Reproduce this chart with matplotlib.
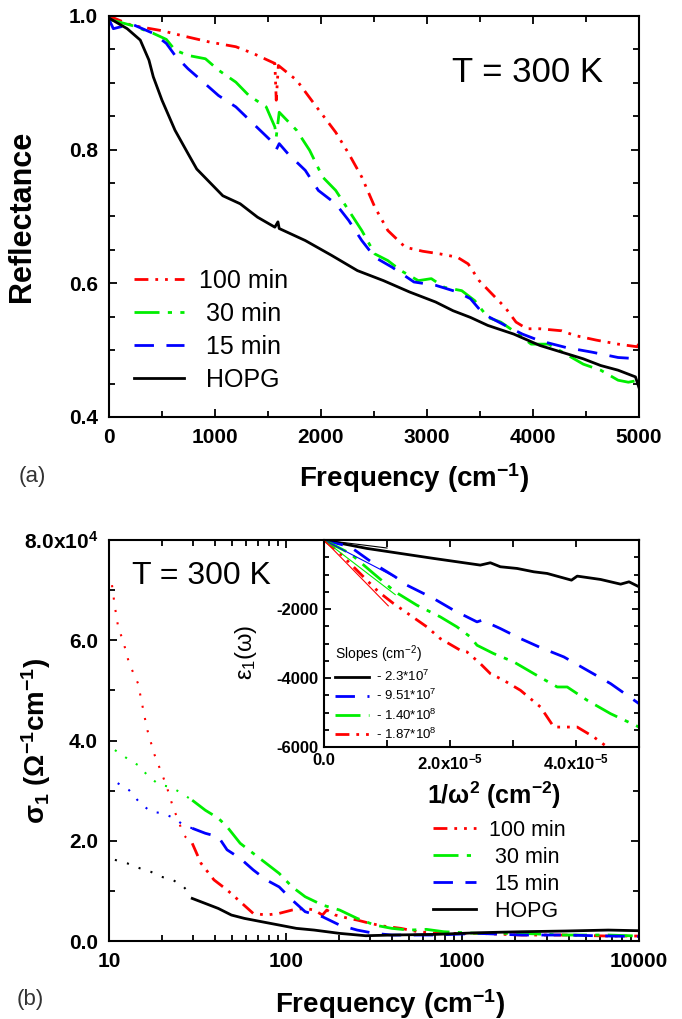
import numpy as np
import matplotlib.pyplot as plt
from matplotlib.ticker import MultipleLocator, FixedLocator, FixedFormatter, LogLocator, NullFormatter

plt.rcParams['font.family'] = ['Liberation Sans', 'DejaVu Sans']
plt.rcParams['mathtext.default'] = 'regular'

# ---- (a) reflectance, 0-5000 cm-1
f_100 = [0, 213, 500, 705, 950, 1197, 1360, 1565, 1578, 1598, 1770, 1934, 2139, 2262, 2385, 2508,
         2631, 2795, 2959, 3123, 3287, 3389, 3492, 3614, 3737, 3840, 3942, 4065, 4270, 4393, 4598,
         4803, 4987, 5000]
R_100 = [1.0, 0.986, 0.978, 0.970, 0.961, 0.954, 0.944, 0.929, 0.874, 0.926, 0.904, 0.869, 0.826,
         0.794, 0.759, 0.714, 0.679, 0.654, 0.648, 0.644, 0.639, 0.629, 0.604, 0.584, 0.564, 0.542,
         0.532, 0.532, 0.529, 0.522, 0.515, 0.509, 0.505, 0.512]

f_30 = [0, 213, 418, 541, 623, 746, 910, 1033, 1197, 1320, 1483, 1565, 1578, 1606, 1770, 1893, 2016,
        2139, 2262, 2385, 2508, 2631, 2754, 2918, 3041, 3164, 3328, 3451, 3574, 3696, 3860, 3983,
        4147, 4311, 4475, 4639, 4803, 4900, 5000]
R_30 = [0.995, 0.986, 0.974, 0.965, 0.949, 0.941, 0.936, 0.919, 0.901, 0.881, 0.864, 0.834, 0.819,
        0.856, 0.829, 0.799, 0.759, 0.739, 0.709, 0.679, 0.644, 0.634, 0.619, 0.604, 0.607, 0.594,
        0.589, 0.574, 0.549, 0.542, 0.524, 0.509, 0.509, 0.494, 0.479, 0.470, 0.455, 0.452, 0.455]

f_15 = [0, 41, 213, 418, 541, 623, 746, 869, 1033, 1197, 1360, 1524, 1578, 1606, 1688, 1852, 1975,
        2139, 2262, 2385, 2508, 2672, 2877, 3082, 3287, 3410, 3533, 3737, 3901, 4065, 4311, 4557,
        4803, 5000]
R_15 = [0.995, 0.981, 0.988, 0.974, 0.959, 0.941, 0.921, 0.904, 0.881, 0.864, 0.839, 0.814, 0.800,
        0.809, 0.794, 0.769, 0.739, 0.719, 0.694, 0.664, 0.639, 0.624, 0.602, 0.597, 0.587, 0.577,
        0.554, 0.537, 0.524, 0.514, 0.504, 0.497, 0.489, 0.487]

f_hopg = [0, 172, 295, 377, 418, 500, 623, 746, 828, 951, 1074, 1238, 1401, 1565, 1594, 1606, 1852,
          2098, 2344, 2590, 2836, 3082, 3246, 3410, 3574, 3819, 4065, 4270, 4475, 4639, 4803, 4967,
          5000]
R_hopg = [0.997, 0.981, 0.964, 0.934, 0.909, 0.874, 0.829, 0.794, 0.771, 0.751, 0.731, 0.719, 0.699,
          0.684, 0.692, 0.682, 0.664, 0.642, 0.619, 0.604, 0.587, 0.572, 0.559, 0.549, 0.537, 0.524,
          0.507, 0.497, 0.487, 0.477, 0.470, 0.460, 0.444]

# ---- (b) conductivity, extrapolated (dotted) and measured parts
fe_100 = [10.4, 10.8, 11.3, 12.0, 13.0, 14.6, 16.4, 18.0, 19.9, 21.1, 23.0, 25.0, 26.5, 29.6]
se_100 = [71000, 66700, 62400, 60000, 55400, 51400, 42400, 37400, 33400, 31100, 26800, 23500, 21100, 19500]
fe_30 = [10.8, 12.7, 14.6, 16.8, 19.4, 22.3, 25.7, 29.6]
se_30 = [38100, 36400, 35100, 32800, 31100, 30800, 29500, 28100]
fe_15 = [11.2, 13.0, 15.0, 17.3, 20.2, 23.4, 26.5, 29.6]
se_15 = [31500, 30100, 27500, 25800, 25500, 24500, 23100, 22500]
fe_hopg = [10.8, 12.7, 15.0, 17.3, 19.9, 23.0, 26.5, 29.6]
se_hopg = [16200, 15500, 14500, 13800, 12800, 12200, 10800, 8840]

fm_100 = [29.6, 33.2, 39.3, 46.6, 55.3, 65.5, 77.6, 91.9, 108.9, 129, 144.7, 161.6, 171, 191, 227,
          254, 301, 357, 449, 562, 705, 1236, 2168, 3800, 6700, 10000]
sm_100 = [19500, 15500, 12200, 10200, 7850, 5520, 5190, 5520, 6190, 6520, 6190, 5190, 6190, 5190,
          4520, 4190, 3520, 2990, 2530, 1860, 1530, 1530, 1200, 1200, 1000, 1000]
fm_30 = [29.6, 35.1, 41.6, 46.6, 55.3, 65.5, 77.6, 91.9, 108.9, 129, 161.6, 202, 254, 319, 399, 500,
         627, 786, 1236, 2168, 3800, 6700, 10000]
sm_30 = [28100, 26100, 24500, 22800, 19500, 17500, 15500, 13500, 10800, 8840, 7180, 6190, 4520, 3190,
         2530, 2190, 2330, 1860, 1530, 1530, 1200, 1200, 1000]
fm_15 = [29.6, 35.1, 41.6, 46.6, 55.3, 65.5, 77.6, 91.9, 108.9, 129, 161.6, 202, 254, 319, 399, 705,
         1236, 2168, 3800, 6700, 10000]
sm_15 = [22500, 21500, 20800, 18200, 16500, 14200, 12200, 10800, 8180, 5850, 4850, 3190, 2190, 1530,
         1200, 1200, 1530, 1200, 1200, 1000, 900]
fm_hopg = [29.6, 35.1, 41.6, 49.3, 58.4, 73.0, 91.9, 115, 145, 202, 284, 399, 705, 1236, 2168, 3800,
           6700, 10000]
sm_hopg = [8500, 7500, 6500, 5190, 4520, 3860, 3190, 2530, 2190, 1530, 1060, 1200, 1330, 1660, 1860,
           2000, 2190, 2060]

# ---- inset: eps1 vs 1/w^2
x_hopg = [0, 6.79e-6, 1.209e-5, 1.739e-5, 2.110e-5, 2.481e-5, 2.640e-5, 2.799e-5, 3.065e-5, 3.330e-5,
          3.542e-5, 3.928e-5, 4.019e-5, 4.390e-5, 4.708e-5, 4.841e-5, 5.0e-5]
e_hopg = [0, -242, -387, -532, -629, -726, -658, -774, -823, -920, -968, -1162, -1045, -1142, -1278,
          -1210, -1355]
x_15 = [0, 4.14e-6, 7.85e-6, 1.129e-5, 1.315e-5, 1.739e-5, 2.057e-5, 2.428e-5, 2.508e-5, 2.799e-5,
        3.118e-5, 3.436e-5, 3.807e-5, 4.178e-5, 4.549e-5, 5.0e-5]
e_15 = [0, -194, -678, -1065, -1307, -1694, -2033, -2372, -2323, -2565, -2856, -3117, -3388, -3775,
        -4162, -4743]
x_30 = [0, 4.14e-6, 7.85e-6, 1.129e-5, 1.474e-5, 1.845e-5, 2.110e-5, 2.322e-5, 2.428e-5, 2.693e-5,
        3.012e-5, 3.330e-5, 3.701e-5, 3.860e-5, 4.178e-5, 4.549e-5, 5.0e-5]
e_30 = [0, -387, -968, -1500, -1888, -2226, -2517, -2807, -3049, -3291, -3533, -3872, -4259, -4259,
        -4646, -5034, -5421]
x_100 = [0, 2.545e-6, 5.196e-6, 7.317e-6, 8.643e-6, 1.103e-5, 1.368e-5, 1.633e-5, 1.845e-5, 2.163e-5,
         2.269e-5, 2.481e-5, 2.640e-5, 2.852e-5, 3.118e-5, 3.436e-5, 3.648e-5, 3.807e-5, 4.019e-5,
         4.284e-5, 4.496e-5, 4.6e-5]
e_100 = [0, -387, -871, -1258, -1500, -1839, -2178, -2517, -2856, -3194, -3243, -3582, -3872, -4066,
         -4356, -4840, -5421, -5421, -5421, -5711, -6001, -6200]

slopes = [-2.3e7, -9.51e7, -1.40e8, -1.87e8]
slope_labels = ['- 2.3*10$^7$', '- 9.51*10$^7$', '- 1.40*10$^8$', '- 1.87*10$^8$']
fit_end = [1.0e-5, 1.13e-5, 1.13e-5, 1.02e-5]

labels = ['100 min', ' 30 min', ' 15 min', ' HOPG']
colors = ['#ff0000', '#00ee00', '#0000ff', 'black']
styles = [(0, (5, 2.5, 1, 2.5, 1, 2.5)), (0, (9, 3, 1.5, 3)), (0, (7, 4.5)), '-']

s1_ticks = [0, 2e4, 4e4, 6e4, 8e4]
s1_ticklabels = ['0.0', '2.0', '4.0', '6.0', '8.0x10$^4$']
in_xticks = [0, 1e-5, 2e-5, 3e-5, 4e-5, 5e-5]
in_xticklabels = ['0.0', '', '2.0x10$^{-5}$', '', '4.0x10$^{-5}$', '']
in_yticks = [0, -2000, -4000, -6000]
in_yticklabels = ['', '-2000', '-4000', '-6000']


def style_axes(ax, size):
    for sp in ax.spines.values():
        sp.set_linewidth(1.5)
    ax.tick_params(which='both', direction='in', top=True, right=True, width=1.3)
    ax.tick_params(which='major', length=6, labelsize=size, pad=8)
    ax.tick_params(which='minor', length=4.5)
    for t in ax.get_xticklabels() + ax.get_yticklabels():
        t.set_fontweight('bold')


fig = plt.figure(figsize=(6.82, 10.19), dpi=100)

# ---------------- panel (a)
ax1 = fig.add_axes([0.1598, 0.5908, 0.7771, 0.3935])
for f, r, c, ls, lab in zip([f_100, f_30, f_15, f_hopg], [R_100, R_30, R_15, R_hopg],
                            colors, styles, labels):
    ax1.plot(f, r, color=c, ls=ls, lw=2, label=lab)
ax1.set_xlim(0, 5000)
ax1.set_ylim(0.4, 1.0)
ax1.xaxis.set_major_locator(MultipleLocator(1000))
ax1.xaxis.set_minor_locator(MultipleLocator(500))
ax1.yaxis.set_major_locator(MultipleLocator(0.2))
ax1.yaxis.set_minor_locator(MultipleLocator(0.05))
ax1.yaxis.set_major_formatter(plt.FormatStrFormatter('%.1f'))
style_axes(ax1, 15)
ax1.set_ylabel('Reflectance', fontsize=22, fontweight='bold')
ax1.yaxis.set_label_coords(-0.136, 0.5)
ax1.set_xlabel('Frequency (cm$^{-1}$)', fontsize=20, fontweight='bold')
ax1.xaxis.set_label_coords(0.575, -0.11)
ax1.text(0.789, 0.86, 'T = 300 K', transform=ax1.transAxes, fontsize=25, ha='center', va='center')
ax1.legend(loc='upper left', bbox_to_anchor=(0.047, 0.37), frameon=False, fontsize=18,
           handlelength=2.0, handletextpad=0.6, labelspacing=0.36, borderpad=0, borderaxespad=0)
fig.text(0.047, 0.532, '(a)', fontsize=16, color='#333333', ha='center', va='center')

# ---------------- panel (b)
ax2 = fig.add_axes([0.1598, 0.0765, 0.7771, 0.3935])
for fe, se, fm, sm, c, ls, lab in zip([fe_100, fe_30, fe_15, fe_hopg], [se_100, se_30, se_15, se_hopg],
                                      [fm_100, fm_30, fm_15, fm_hopg], [sm_100, sm_30, sm_15, sm_hopg],
                                      colors, styles, labels):
    ax2.plot(fe, se, color=c, ls=(0, (1, 5)), lw=1.5)
    ax2.plot(fm, sm, color=c, ls=ls, lw=2, label=lab)
ax2.set_xscale('log')
ax2.set_xlim(10, 10000)
ax2.set_ylim(0, 8e4)
ax2.xaxis.set_major_locator(LogLocator(base=10))
ax2.xaxis.set_minor_locator(LogLocator(base=10, subs=np.arange(2, 10)))
ax2.xaxis.set_minor_formatter(NullFormatter())
ax2.xaxis.set_major_formatter(plt.FuncFormatter(lambda v, p: '%d' % v))
ax2.yaxis.set_major_locator(FixedLocator(s1_ticks))
ax2.yaxis.set_major_formatter(FixedFormatter(s1_ticklabels))
ax2.yaxis.set_minor_locator(MultipleLocator(1e4))
style_axes(ax2, 15)
ax2.set_ylabel('σ$_1$ (Ω$^{-1}$cm$^{-1}$)', fontsize=20, fontweight='bold')
ax2.yaxis.set_label_coords(-0.106, 0.5)
ax2.set_xlabel('Frequency (cm$^{-1}$)', fontsize=20, fontweight='bold')
ax2.xaxis.set_label_coords(0.53, -0.115)
ax2.text(0.174, 0.91, 'T = 300 K', transform=ax2.transAxes, fontsize=23, ha='center', va='center')
ax2.legend(loc='upper left', bbox_to_anchor=(0.611, 0.303), frameon=False, fontsize=15.5,
           handlelength=2.0, handletextpad=0.6, labelspacing=0.28, borderpad=0, borderaxespad=0)
fig.text(0.044, 0.019, '(b)', fontsize=16, color='#333333', ha='center', va='center')

# ---------------- inset
ax3 = fig.add_axes([0.4751, 0.2669, 0.4619, 0.2031])
handles = []
for x, e, c, ls in zip([x_hopg, x_15, x_30, x_100], [e_hopg, e_15, e_30, e_100],
                       colors[::-1], styles[::-1]):
    h, = ax3.plot(x, e, color=c, ls=ls, lw=2)
    handles.append(h)
for k, (sl, xe) in enumerate(zip(slopes, fit_end)):
    xx = np.array([0, xe])
    ax3.plot(xx, sl * xx, color=colors[::-1][k], lw=0.8)
ax3.set_xlim(0, 5e-5)
ax3.set_ylim(-6000, 0)
ax3.xaxis.set_major_locator(FixedLocator(in_xticks))
ax3.xaxis.set_major_formatter(FixedFormatter(in_xticklabels))
ax3.yaxis.set_major_locator(FixedLocator(in_yticks))
ax3.yaxis.set_major_formatter(FixedFormatter(in_yticklabels))
ax3.yaxis.set_minor_locator(MultipleLocator(500))
style_axes(ax3, 12)
ax3.tick_params(which='major', pad=4, length=5)
ax3.tick_params(which='minor', length=3.5)
ax3.set_ylabel('ε$_1$(ω)', fontsize=17)
ax3.yaxis.set_label_coords(-0.206, 0.46)
ax3.set_xlabel('1/ω$^2$ (cm$^{-2}$)', fontsize=18, fontweight='bold')
ax3.xaxis.set_label_coords(0.54, -0.155)
leg = ax3.legend(handles, slope_labels, title='Slopes (cm$^{-2}$)', loc='upper left',
                 bbox_to_anchor=(0.035, 0.5), frameon=False, fontsize=9.5, title_fontsize=10,
                 handlelength=2.6, handletextpad=0.5, labelspacing=0.3, borderpad=0,
                 borderaxespad=0, alignment='left')

fig.savefig('out.png', dpi=100)
